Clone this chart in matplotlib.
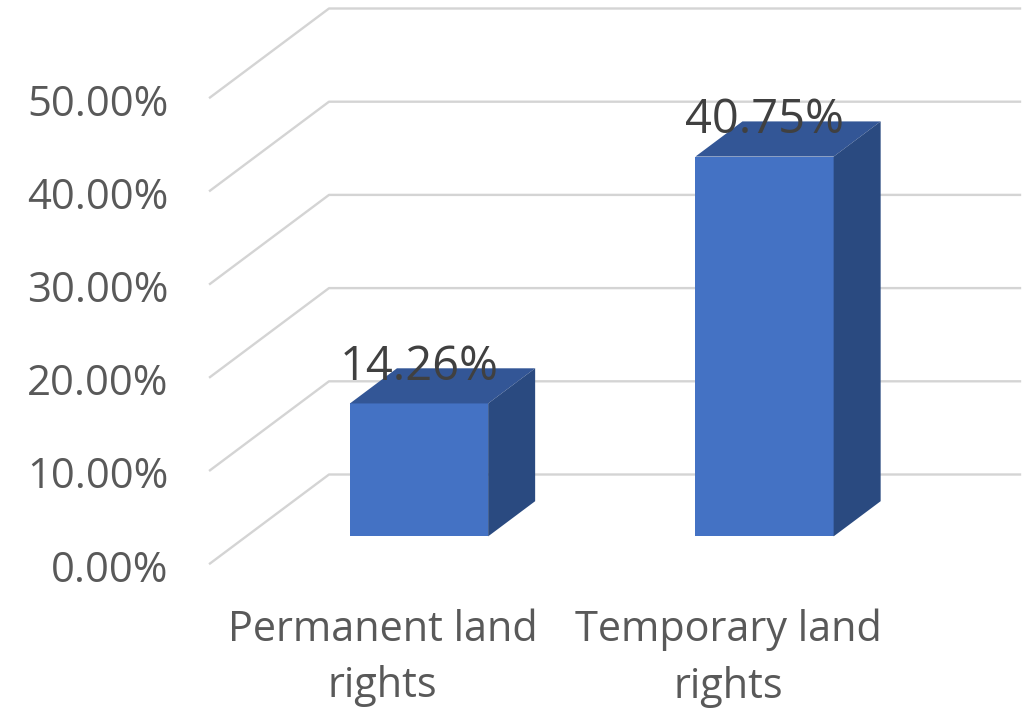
import numpy as np
import matplotlib
matplotlib.use("Agg")
import matplotlib.pyplot as plt
from matplotlib.transforms import ScaledTranslation

# values
categories = ["Permanent land\nrights", "Temporary land\nrights"]
values = [14.26, 40.75]
value_labels = ["14.26%", "40.75%"]
y_ticks = [0, 10, 20, 30, 40, 50]
y_tick_labels = ["0.00%", "10.00%", "20.00%", "30.00%", "40.00%", "50.00%"]

plt.rcParams['font.family'] = ['Open Sans', 'DejaVu Sans']

W, H = 1028, 708
fig = plt.figure(figsize=(W / 100, H / 100), dpi=100)
# plot box is the front plane of the fake 3D box
ax = fig.add_axes([210 / W, (H - 563.5) / H, 691 / W, 466 / H])
ax.set_xlim(-0.5, 1.5)
ax.set_ylim(0, 50)
for spine in ax.spines.values():
    spine.set_visible(False)

# depth of the box, in data units
depth_x = 119 / 345.5
depth_y = 89 / 9.32
bar_width = 0.4
bar_start = 0.305   # fraction of depth where the bar begins
bar_end = 0.70      # and where it ends

grid_color = '#D4D4D4'
for t in y_ticks:
    ax.plot([-0.5, -0.5 + depth_x, 1.5 + depth_x], [t, t + depth_y, t + depth_y],
            color=grid_color, lw=1.7, clip_on=False, zorder=1, solid_joinstyle='round')

# 3D bars: front face, top and side
front_col = '#4472C4'
top_col = '#335696'
side_col = '#2A4A80'
for i, v in enumerate(values):
    x0 = i - bar_width / 2 + bar_start * depth_x
    x1 = x0 + bar_width
    y0 = bar_start * depth_y
    y1 = y0 + v
    dx = (bar_end - bar_start) * depth_x
    dy = (bar_end - bar_start) * depth_y
    ax.bar(x0 + bar_width / 2, v, width=bar_width, bottom=y0, color=front_col, zorder=3)
    ax.fill([x0, x0 + dx, x1 + dx, x1], [y1, y1 + dy, y1 + dy, y1], color=top_col, lw=0, zorder=3)
    ax.fill([x1, x1 + dx, x1 + dx, x1], [y0, y0 + dy, y1 + dy, y1], color=side_col, lw=0, zorder=3)
    ax.text(x0 + bar_width / 2, y1 + 3.9, value_labels[i], ha='center', va='center',
            fontsize=33.8, color='#404040', zorder=4, clip_on=False)

ax.set_xticks([0, 1])
ax.set_xticklabels(categories, fontsize=29.9, color='#595959', linespacing=1.45)
ax.set_yticks(y_ticks)
ax.set_yticklabels(y_tick_labels, fontsize=30.2, color='#595959')
ax.tick_params(axis='x', length=0, pad=32.5)
ax.tick_params(axis='y', length=0, pad=30)

# y labels sit slightly under their lines in the original
nudge = ScaledTranslation(0, -1.5 / 72, fig.dpi_scale_trans)
for lab in ax.get_yticklabels():
    lab.set_transform(lab.get_transform() + nudge)

fig.savefig('out.png', dpi=100, facecolor='white')
